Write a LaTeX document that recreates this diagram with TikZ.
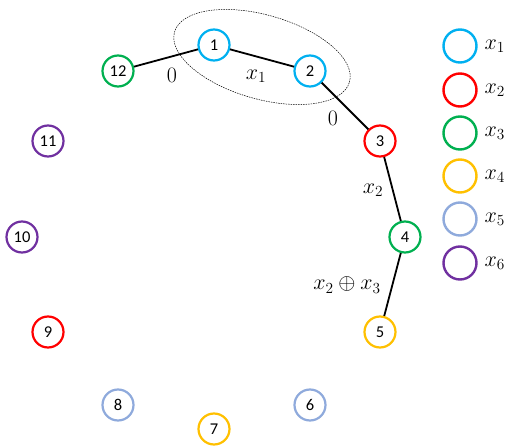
\documentclass[tikz,border=0pt]{standalone}
\usepackage{fix-cm}
\usepackage{fontspec}
\setsansfont{Carlito}
\begin{document}
\definecolor{cA}{RGB}{0,176,240}
\definecolor{cB}{RGB}{255,0,0}
\definecolor{cC}{RGB}{0,176,80}
\definecolor{cD}{RGB}{255,192,0}
\definecolor{cE}{RGB}{143,170,220}
\definecolor{cF}{RGB}{112,48,160}
\begin{tikzpicture}[x=1pt,y=-1pt,
  vtx/.style={circle,draw,line width=2.2pt,fill=white,minimum size=31pt,inner sep=0pt,font=\sffamily\fontsize{16.5}{16.5}\selectfont},
  key/.style={circle,draw,line width=2.4pt,minimum size=33pt,inner sep=0pt},
  keylab/.style={anchor=west,font=\fontsize{22}{22}\selectfont},
  edge/.style={line width=1.8pt},
  elab/.style={font=\fontsize{22}{22}\selectfont}]
\useasboundingbox (0,0) rectangle (507,446);
% grouping around the first two vertices
\draw[line width=0.5pt,dash pattern=on 1.5pt off 1pt] (262,57) ellipse[x radius=91pt,y radius=42pt,rotate=-16];
% ring of vertices
\node[vtx,draw=cA] (n1) at (214,45) {1};
\node[vtx,draw=cA] (n2) at (310,71) {2};
\node[vtx,draw=cB] (n3) at (380,141) {3};
\node[vtx,draw=cC] (n4) at (405,237) {4};
\node[vtx,draw=cD] (n5) at (380,332) {5};
\node[vtx,draw=cE] (n6) at (310,405) {6};
\node[vtx,draw=cD] (n7) at (214,429) {7};
\node[vtx,draw=cE] (n8) at (118,405) {8};
\node[vtx,draw=cB] (n9) at (48,332) {9};
\node[vtx,draw=cF] (n10) at (22,237) {10};
\node[vtx,draw=cF] (n11) at (48,141) {11};
\node[vtx,draw=cC] (n12) at (118,71) {12};
% path edges
\draw[edge] (n12) -- (n1);
\draw[edge] (n1) -- (n2);
\draw[edge] (n2) -- (n3);
\draw[edge] (n3) -- (n4);
\draw[edge] (n4) -- (n5);
% edge labels
\node[elab] (l1) at (172,75) {$0$};
\node[elab] (l2) at (256,76) {$x_1$};
\node[elab] (l3) at (333,118) {$0$};
\node[elab] (l4) at (373,190) {$x_2$};
\node[elab] (l5) at (347,285) {$x_2 \oplus x_3$};
% colour key
\node[key,draw=cA] (k1) at (460,46) {};
\node[key,draw=cB] (k2) at (460,90) {};
\node[key,draw=cC] (k3) at (460,133) {};
\node[key,draw=cD] (k4) at (460,176) {};
\node[key,draw=cE] (k5) at (460,219) {};
\node[key,draw=cF] (k6) at (460,263) {};
\node[keylab] (t1) at (481,46) {$x_1$};
\node[keylab] (t2) at (481,90) {$x_2$};
\node[keylab] (t3) at (481,133) {$x_3$};
\node[keylab] (t4) at (481,176) {$x_4$};
\node[keylab] (t5) at (481,219) {$x_5$};
\node[keylab] (t6) at (481,263) {$x_6$};
\end{tikzpicture}
\end{document}
